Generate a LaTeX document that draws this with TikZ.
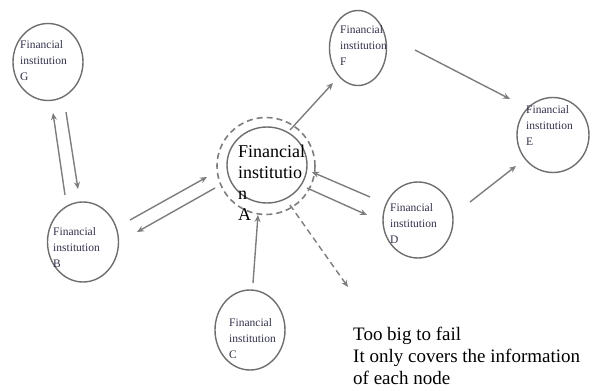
\documentclass[tikz,border=0pt]{standalone}
\usepackage{fontspec}
\setmainfont{Liberation Serif}
\usetikzlibrary{arrows.meta,calc,shapes.geometric}
\definecolor{linegray}{RGB}{125,125,125}
\definecolor{circgray}{RGB}{110,110,110}
\definecolor{txtdark}{RGB}{50,50,75}
\tikzset{
  inst/.style={ellipse,draw=circgray,line width=1.4pt,inner sep=0pt},
  small/.style={anchor=north west,inner sep=0pt,align=left,text=txtdark,font=\fontsize{11.5}{16}\selectfont},
  arr/.style={draw=linegray,line width=1.4pt,-{Stealth[length=7pt,width=6pt]}},
  darr/.style={draw=linegray,line width=1.4pt,dash pattern=on 6pt off 4pt,-{Stealth[length=7pt,width=6pt]}}
}
\begin{document}
\begin{tikzpicture}[x=1pt,y=-1pt]
\useasboundingbox (0,0) rectangle (600,391);
% circles
\node[inst,minimum width=70pt,minimum height=77pt] (G) at (48,62) {};
\node[inst,minimum width=57pt,minimum height=75pt] (F) at (358,48) {};
\node[inst,minimum width=72pt,minimum height=75pt] (E) at (553,135) {};
\node[inst,minimum width=80pt,minimum height=76pt] (A) at (267,165) {};
\node[ellipse,draw=linegray,line width=1.6pt,dash pattern=on 6pt off 4pt,minimum width=98pt,minimum height=97pt,inner sep=0pt] (Aring) at (266,166) {};
\node[inst,minimum width=70pt,minimum height=76pt] (D) at (418,220) {};
\node[inst,minimum width=71pt,minimum height=80pt] (B) at (83,242) {};
\node[inst,minimum width=70pt,minimum height=80pt] (C) at (250,330) {};
% texts
\node[small] (Gt) at (20,40) {Financial\\institution\\G};
\node[small] (Ft) at (340,25) {Financial\\institution\\F};
\node[small] (Et) at (526,105) {Financial\\institution\\E};
\node[small] (Dt) at (390,203) {Financial\\institution\\D};
\node[small] (Bt) at (53,227) {Financial\\institution\\B};
\node[small] (Ct) at (229,318) {Financial\\institution\\C};
\node[anchor=north west,inner sep=0pt,align=left,font=\fontsize{18}{21}\selectfont] (At) at (238,145) {Financial\\institutio\\n\\A};
\node[anchor=north west,inner sep=0pt,align=left,font=\fontsize{19}{22}\selectfont] (cap) at (353,327) {Too big to fail\\It only covers the information\\of each node};
% connectors
\coordinate (dashend) at (348,287);
\draw[arr] ($(B)+(-18,-47)$) -- ($(G)+(5,51)$);
\draw[arr] ($(G)+(18,50)$) -- ($(B)+(-5,-53)$);
\draw[arr] ($(B)+(47,-22)$) -- ($(A)+(-60,12)$);
\draw[arr] ($(A)+(-52,23)$) -- ($(B)+(54,-10)$);
\draw[arr] ($(A)+(23,-35)$) -- ($(F)+(-25,35)$);
\draw[arr] ($(F)+(57,2)$) -- ($(E)+(-43,-36)$);
\draw[arr] ($(D)+(-48,-23)$) -- ($(A)+(45,7)$);
\draw[arr] ($(A)+(40,23)$) -- ($(D)+(-51,-5)$);
\draw[arr] ($(D)+(52,-18)$) -- ($(E)+(-37,31)$);
\draw[arr] ($(C)+(3,-47)$) -- ($(A)+(-9,50)$);
\draw[darr] ($(A)+(23,40)$) -- (dashend);
\end{tikzpicture}
\end{document}
